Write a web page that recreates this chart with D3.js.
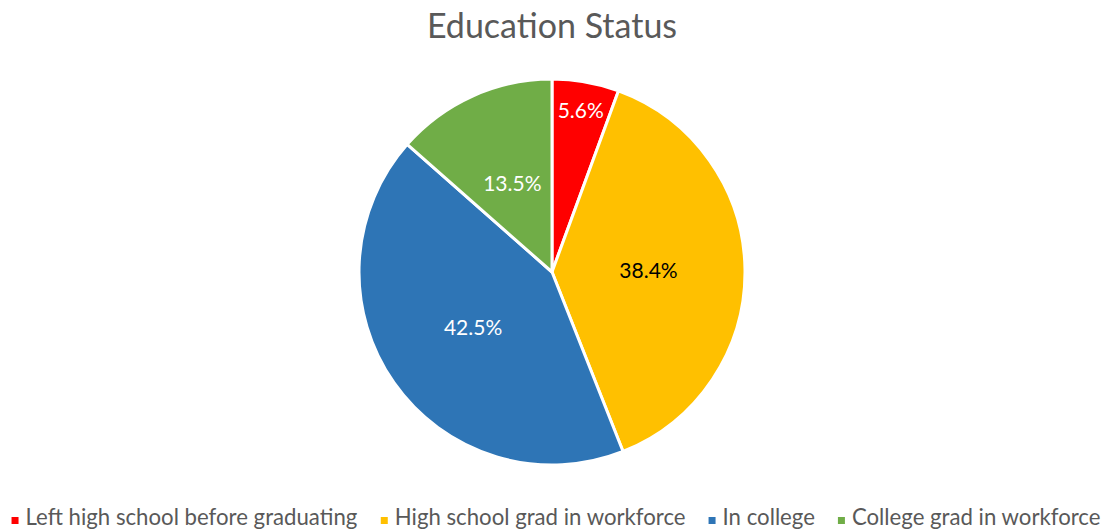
<!DOCTYPE html>
<html>
<head>
<meta charset="utf-8">
<script src="https://cdn.jsdelivr.net/npm/d3@7"></script>
<style>
  body { margin: 0; background: #fff; }
  text { font-family: Lato, "Open Sans", sans-serif; }
</style>
</head>
<body>
<svg width="1112" height="531"></svg>
<script>
var categories = ["Left high school before graduating", "High school grad in workforce", "In college", "College grad in workforce"];
var values = [5.6, 38.4, 42.5, 13.5];
var colors = ["#ff0000", "#ffc000", "#2e75b6", "#70ad47"];
var labelColors = ["#fff", "#000", "#fff", "#fff"];

var svg = d3.select("svg"),
    width = +svg.attr("width"),
    height = +svg.attr("height");

var cx = 552, cy = 272, r = 193;

// title
svg.append("text")
  .attr("x", cx).attr("y", 38)
  .attr("text-anchor", "middle")
  .attr("fill", "#595959")
  .style("font-size", "34px")
  .text("Education Status");

var data = categories.map(function(c, i){ return {name: c, value: values[i], i: i}; });

var pie = d3.pie().sort(null).value(function(d){ return d.value; });
var arc = d3.arc().innerRadius(0).outerRadius(r);

var g = svg.append("g").attr("transform", "translate(" + cx + "," + cy + ")");

var arcs = pie(data);

g.selectAll("path")
  .data(arcs)
  .enter().append("path")
  .attr("d", arc)
  .attr("fill", function(d){ return colors[d.data.i]; })
  .attr("stroke", "#fff")
  .attr("stroke-width", 3)
  .attr("stroke-linejoin", "round");

// labels: small slices pushed toward the edge
g.selectAll("text.lbl")
  .data(arcs)
  .enter().append("text")
  .attr("class", "lbl")
  .attr("transform", function(d){
    var rr = d.data.value < 10 ? r * 0.85 : r * 0.5;
    var c = d3.arc().innerRadius(rr).outerRadius(rr).centroid(d);
    return "translate(" + c[0] + "," + c[1] + ")";
  })
  .attr("text-anchor", "middle")
  .attr("dy", "0.35em")
  .attr("fill", function(d){ return labelColors[d.data.i]; })
  .style("font-size", "21px")
  .text(function(d){ return d.data.value.toFixed(1) + "%"; });

// legend
var legend = svg.append("g");
var items = legend.selectAll("g")
  .data(data)
  .enter().append("g");

items.append("rect")
  .attr("width", 7).attr("height", 7)
  .attr("y", -8)
  .attr("fill", function(d){ return colors[d.i]; });

items.append("text")
  .attr("x", 14)
  .attr("fill", "#595959")
  .style("font-size", "22.2px")
  .text(function(d){ return d.name; });

var gap = 23, xoff = 0;
items.each(function(){
  var w = this.getBBox().width;
  d3.select(this).attr("transform", "translate(" + xoff + ",0)");
  xoff += w + gap;
});
var total = xoff - gap;
legend.attr("transform", "translate(" + (556 - total / 2) + ",525)");
</script>
</body>
</html>
